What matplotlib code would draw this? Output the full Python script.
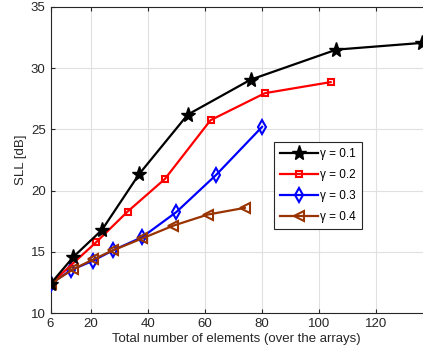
import matplotlib
matplotlib.use("Agg")
import matplotlib.pyplot as plt

plt.rcParams['font.family'] = ['Liberation Sans', 'DejaVu Sans']

# gamma = 0.1
x1 = [6, 14, 24, 37, 54, 76, 106, 136]
y1 = [12.4, 14.6, 16.8, 21.35, 26.2, 29.05, 31.5, 32.05]
# gamma = 0.2
x2 = [6, 22, 33, 46, 62, 81, 104]
y2 = [12.4, 15.8, 18.3, 20.95, 25.75, 27.95, 28.85]
# gamma = 0.3
x3 = [6, 13, 21, 28, 38, 50, 64, 80]
y3 = [12.4, 13.5, 14.3, 15.15, 16.2, 18.25, 21.3, 25.2]
# gamma = 0.4
x4 = [6, 14, 21, 28, 38, 49, 61, 74]
y4 = [12.4, 13.6, 14.4, 15.15, 16.1, 17.15, 18.05, 18.6]

labels = ['γ = 0.1', 'γ = 0.2', 'γ = 0.3', 'γ = 0.4']
xticks = [6, 20, 40, 60, 80, 100, 120]
yticks = [10, 15, 20, 25, 30, 35]

brown = (0.6, 0.2, 0.0)

fig = plt.figure(figsize=(4.23, 3.58), dpi=100)
ax = fig.add_axes([50.5 / 423, 44.7 / 358, 372.5 / 423, 306.6 / 358])

ax.plot(x1, y1, color='black', lw=1.6, marker='*', ms=11, label=labels[0], zorder=5)
ax.plot(x2, y2, color='red', lw=1.6, marker='s', ms=5, mfc='none', mew=1.5, label=labels[1], zorder=4)
ax.plot(x3, y3, color='blue', lw=1.6, marker='d', ms=7, mfc='none', mew=1.5, label=labels[2], zorder=3)
ax.plot(x4, y4, color=brown, lw=1.6, marker='<', ms=6.5, mfc='none', mew=1.5, label=labels[3], zorder=4)

ax.set_xlim(6, 136.3)
ax.set_ylim(10, 35)
ax.set_xticks(xticks)
ax.set_yticks(yticks)
ax.grid(True, color='#e0e0e0', lw=0.8)
ax.set_axisbelow(True)
ax.tick_params(direction='in', top=True, length=3, labelsize=9.5, colors='#262626', width=0.8)
for s in ['left', 'bottom', 'top']:
    ax.spines[s].set_color('#262626')
    ax.spines[s].set_linewidth(0.8)
ax.spines['right'].set_visible(False)

ax.set_xlabel('Total number of elements (over the arrays)', fontsize=9.5, color='#262626', labelpad=2)
ax.set_ylabel('SLL [dB]', fontsize=9.5, color='#262626', labelpad=3)

leg = ax.legend(loc='upper left', bbox_to_anchor=((274.3 - 50.5) / 372.5, 1 - (142.3 - 6.7) / 306.6),
                borderaxespad=0, fontsize=8.5, fancybox=False, edgecolor='#262626', framealpha=1,
                handlelength=3.2, handletextpad=0.2, borderpad=0.5, labelspacing=0.75)
leg.get_frame().set_linewidth(0.8)

fig.savefig('out.png', dpi=100)
